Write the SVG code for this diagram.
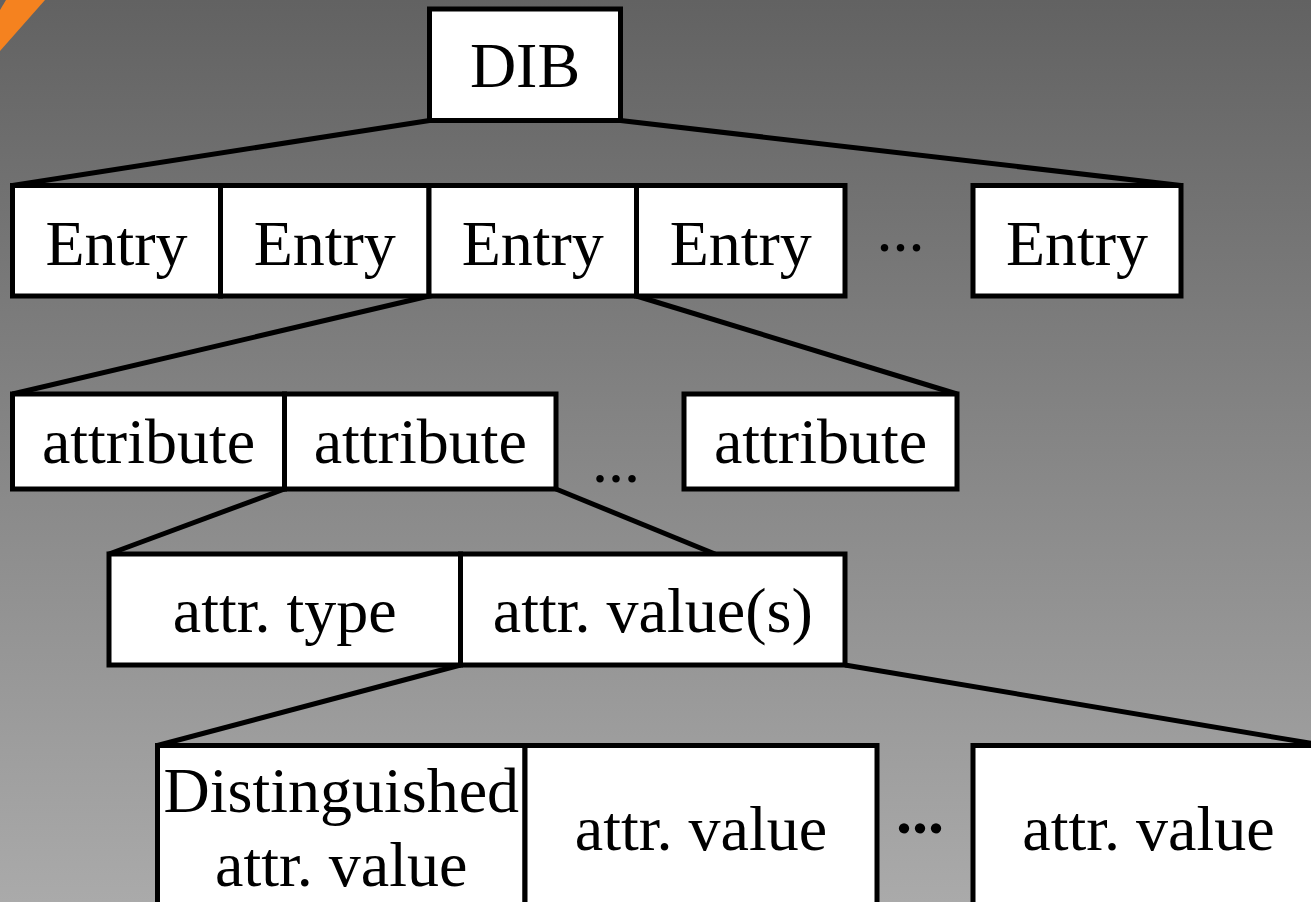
<svg xmlns="http://www.w3.org/2000/svg" width="1311" height="902" viewBox="0 0 1311 902">
<defs>
<linearGradient id="bg" x1="0" y1="0" x2="0" y2="1">
<stop offset="0" stop-color="#626262"/>
<stop offset="1" stop-color="#aaaaaa"/>
</linearGradient>
<style>
.box{fill:#ffffff;stroke:#000000;stroke-width:5;stroke-linejoin:miter}
.lbl{font-family:"Liberation Serif","Times New Roman",serif;font-size:64px;fill:#000000;text-anchor:middle}
.dots{font-family:"Liberation Serif","Times New Roman",serif;font-size:64px;fill:#000000;text-anchor:middle}
.conn{stroke:#000000;stroke-width:5;fill:none;stroke-linecap:butt}
</style>
</defs>
<rect x="0" y="0" width="1311" height="902" fill="url(#bg)"/>
<polygon points="6,0 45,0 0,51 0,10" fill="#f5821f"/>

<g id="connectors">
<line class="conn" x1="429.5" y1="120.5" x2="12.5" y2="185.5"/>
<line class="conn" x1="620.5" y1="120.5" x2="1181" y2="185.5"/>
<line class="conn" x1="429" y1="296" x2="12.5" y2="394"/>
<line class="conn" x1="636.5" y1="296" x2="957" y2="394"/>
<line class="conn" x1="284.5" y1="489" x2="109" y2="554"/>
<line class="conn" x1="556" y1="489" x2="715" y2="554"/>
<line class="conn" x1="460.5" y1="665" x2="157.5" y2="745.5"/>
<line class="conn" x1="845" y1="665" x2="1324" y2="745.5"/>
</g>

<g id="dib">
<rect class="box" x="429.5" y="9" width="191" height="111.5"/>
<text class="lbl" x="525" y="87">DIB</text>
</g>

<g id="entry1">
<rect class="box" x="12.5" y="185.5" width="208" height="110.5"/>
<text class="lbl" x="116.5" y="265">Entry</text>
</g>
<g id="entry2">
<rect class="box" x="220.5" y="185.5" width="208.5" height="110.5"/>
<text class="lbl" x="324.75" y="265">Entry</text>
</g>
<g id="entry3">
<rect class="box" x="429" y="185.5" width="207.5" height="110.5"/>
<text class="lbl" x="532.75" y="265">Entry</text>
</g>
<g id="entry4">
<rect class="box" x="636.5" y="185.5" width="208.5" height="110.5"/>
<text class="lbl" x="740.75" y="265">Entry</text>
</g>
<g id="entry-dots">
<text class="dots" x="900.5" y="251">...</text>
</g>
<g id="entry5">
<rect class="box" x="973" y="185.5" width="208" height="110.5"/>
<text class="lbl" x="1077" y="265">Entry</text>
</g>

<g id="attribute1">
<rect class="box" x="12.5" y="394" width="272" height="95"/>
<text class="lbl" x="148.5" y="463">attribute</text>
</g>
<g id="attribute2">
<rect class="box" x="284.5" y="394" width="271.5" height="95"/>
<text class="lbl" x="420.25" y="463">attribute</text>
</g>
<g id="attribute-dots">
<text class="dots" x="616" y="482">...</text>
</g>
<g id="attribute3">
<rect class="box" x="684" y="394" width="273" height="95"/>
<text class="lbl" x="820.5" y="463">attribute</text>
</g>

<g id="attr-type">
<rect class="box" x="109" y="554" width="351.5" height="111"/>
<text class="lbl" x="284.75" y="632">attr. type</text>
</g>
<g id="attr-values">
<rect class="box" x="460.5" y="554" width="384.5" height="111"/>
<text class="lbl" x="652.75" y="632">attr. value(s)</text>
</g>

<g id="distinguished-value">
<rect class="box" x="157.5" y="745.5" width="367.5" height="170"/>
<text class="lbl" x="341.25" y="812">Distinguished</text>
<text class="lbl" x="341.25" y="886">attr. value</text>
</g>
<g id="attr-value1">
<rect class="box" x="525" y="745.5" width="352" height="170"/>
<text class="lbl" x="701" y="850">attr. value</text>
</g>
<g id="value-dots">
<text class="dots" x="920" y="833" font-weight="bold">...</text>
</g>
<g id="attr-value2">
<rect class="box" x="973" y="745.5" width="351" height="170"/>
<text class="lbl" x="1148.5" y="850">attr. value</text>
</g>
</svg>
